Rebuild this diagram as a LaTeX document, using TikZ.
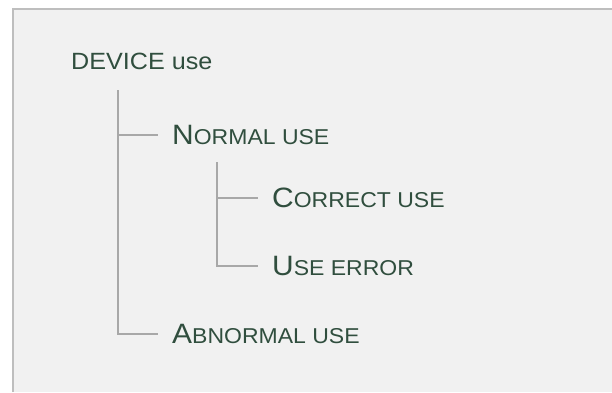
\documentclass[tikz,border=0pt]{standalone}
\usepackage{fontspec}
\setmainfont[FakeStretch=1.07]{Liberation Sans}
\usepackage{tikz}
\usetikzlibrary{positioning}

\definecolor{labelgreen}{RGB}{48,78,62}
\definecolor{panelgray}{RGB}{241,241,241}
\definecolor{framegray}{RGB}{190,190,190}
\definecolor{treegray}{RGB}{168,168,168}

% first letter large, the rest as small capitals
\newcommand{\capword}[2]{{\fontsize{28}{30}\selectfont #1}{\fontsize{21.5}{24}\selectfont #2}}

\begin{document}
\begin{tikzpicture}[x=1pt,y=-1pt]
				\tikzset{label/.style = {anchor=west, inner sep=0pt, text=labelgreen}}
				\tikzset{branch/.style = {draw=treegray, line width=1.3pt}}
				
				% panel
				\useasboundingbox (0,0) rectangle (612,392);
				\fill[white] (0,0) rectangle (612,392);
				\fill[panelgray] (13,9) rectangle (612,392);
				\draw[framegray, line width=1.8pt] (13,392) -- (13,9) -- (612,9);
				
				% labels
				\node[label] (device) at (71,61) {\fontsize{23.5}{26}\selectfont DEVICE use};
				\node[label] (normal) at (172,135) {\capword{N}{ORMAL USE}};
				\node[label] (correct) at (272,198) {\capword{C}{ORRECT USE}};
				\node[label] (error) at (272,266) {\capword{U}{SE ERROR}};
				\node[label] (abnormal) at (172,334) {\capword{A}{BNORMAL USE}};
				
				\coordinate (devstem) at (118,90);
				\coordinate (normstem) at (217,162);
				
				% tree
				\draw[branch] (devstem) |- ([xshift=-14pt]normal.west);
				\draw[branch] (devstem) |- ([xshift=-14pt]abnormal.west);
				\draw[branch] (normstem) |- ([xshift=-14pt]correct.west);
				\draw[branch] (normstem) |- ([xshift=-14pt]error.west);
				
\end{tikzpicture}
\end{document}
